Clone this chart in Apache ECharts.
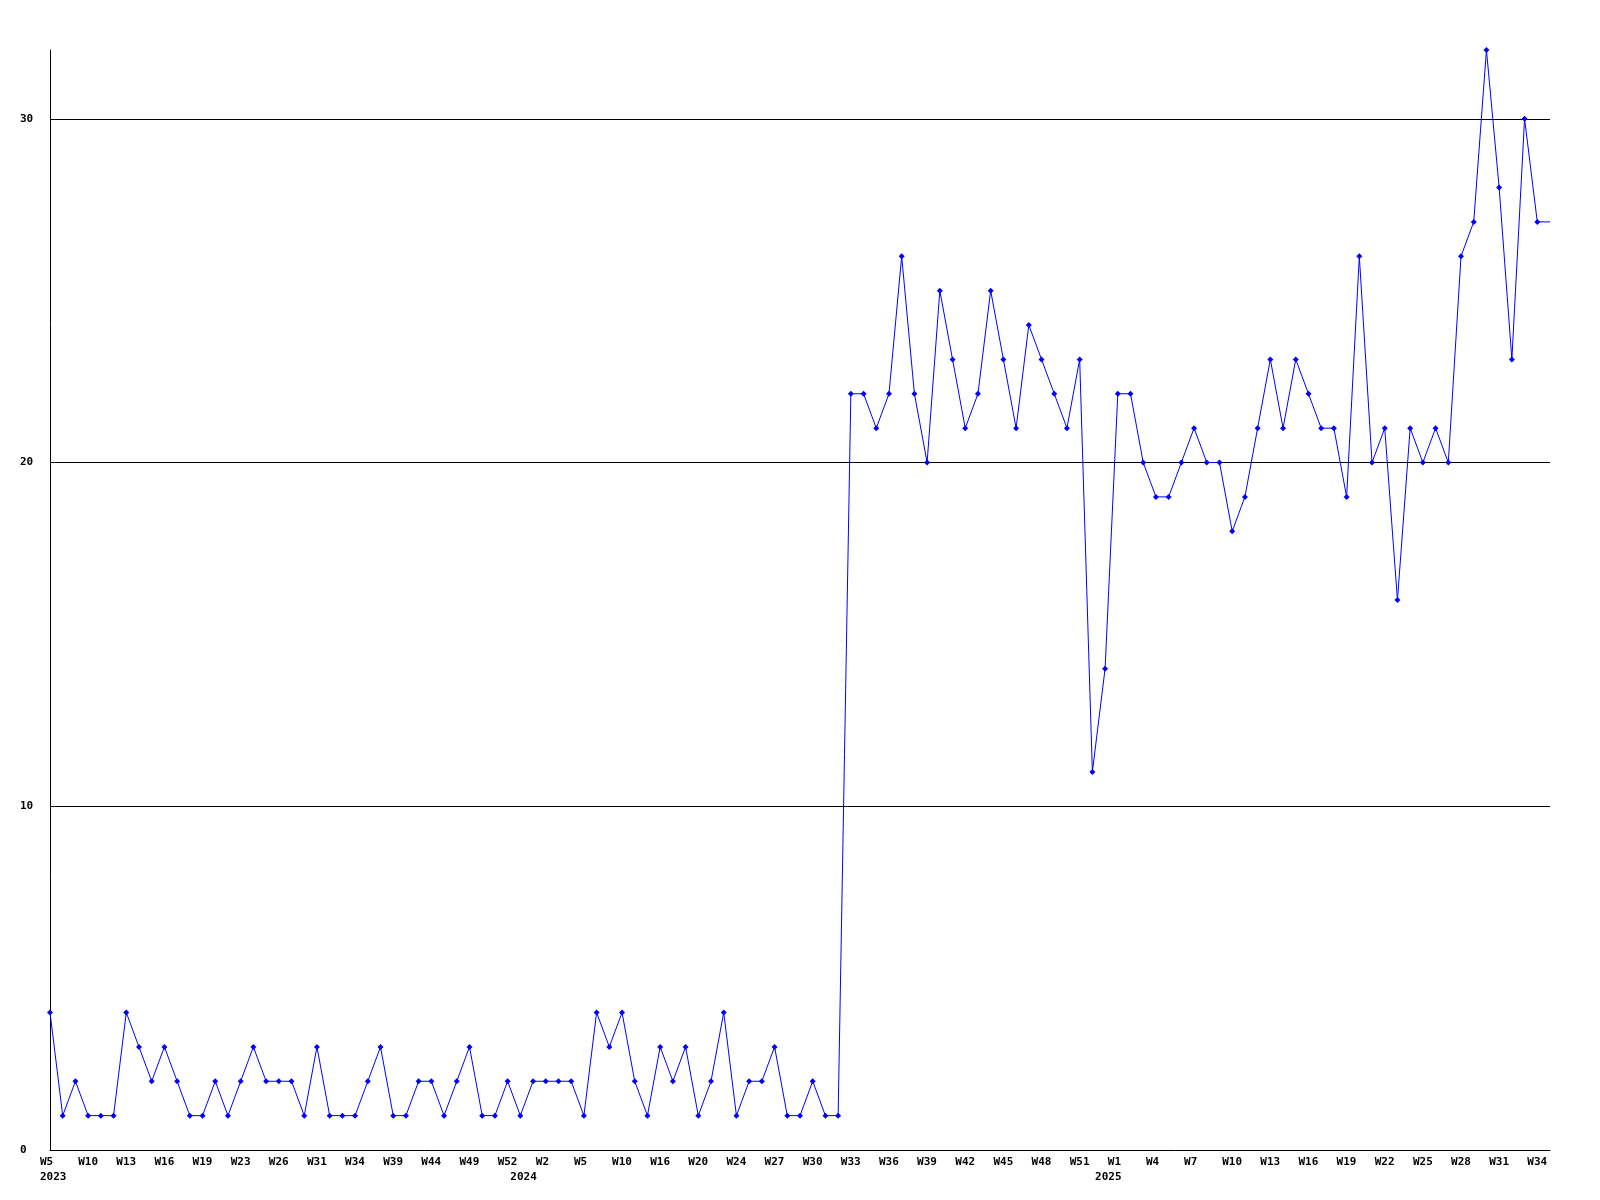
<!DOCTYPE html>
<html>
<head>
<meta charset="utf-8">
<script src="https://cdn.jsdelivr.net/npm/echarts@6/dist/echarts.min.js"></script>
<style>
html,body{margin:0;padding:0;background:#fff;}
#chart{width:1600px;height:1200px;}
</style>
</head>
<body>
<div id="chart"></div>
<script>
// Categories: "year week"
var weeks2023 = ['W5','W7','W8','W10','W11','W12','W13','W14','W15','W16','W17','W18','W19','W20','W22','W23','W24','W25','W26','W28','W30','W31','W32','W33','W34','W36','W37','W39','W41','W42','W44','W46','W47','W49','W50','W51','W52'];
var weeks2024 = ['W0','W1','W2','W3','W4','W5','W7','W9','W10','W12','W14','W16','W17','W18','W20','W21','W22','W24','W25','W26','W27','W28','W29','W30','W31','W32','W33','W34','W35','W36','W37','W38','W39','W40','W41','W42','W43','W44','W45','W46','W47','W48','W49','W50','W51','W52'];
var weeks2025 = ['W0','W1','W2','W3','W4','W5','W6','W7','W8','W9','W10','W11','W12','W13','W14','W15','W16','W17','W18','W19','W20','W21','W22','W23','W24','W25','W26','W27','W28','W29','W30','W31','W32','W33','W34','W35'];

var values = [
  4,1,2,1,1,1,4,3,2,3,2,1,1,2,1,2,3,2,2,2,1,3,1,1,1,2,3,1,1,2,
  2,1,2,3,1,1,2,1,2,2,2,2,1,4,3,4,2,1,3,2,3,1,2,4,1,2,2,3,1,1,2,1,1,
  22,22,21,22,26,22,20,25,23,21,22,25,23,21,24,23,22,21,23,
  11,14,22,22,20,19,19,20,21,20,20,18,19,21,23,21,23,22,21,21,
  19,26,20,21,16,21,20,21,20,26,27,32,28,23,30,27,27
];

var yTicks = [0, 10, 20, 30];
var yMax = 32;

var categories = [];
weeks2023.forEach(function(w){ categories.push('2023 ' + w); });
weeks2024.forEach(function(w){ categories.push('2024 ' + w); });
weeks2025.forEach(function(w){ categories.push('2025 ' + w); });

var yearStart = {};
categories.forEach(function(c, i){
  var y = c.split(' ')[0];
  if (!(y in yearStart)) yearStart[y] = i;
});
var yearStartIdx = Object.keys(yearStart).map(function(k){ return yearStart[k]; });

var seriesData = values.map(function(v, i){
  return i === values.length - 1 ? {value: v, symbol: 'none'} : v;
});

var FONT = 'DejaVu Sans Mono';
var labelStyle = {fontFamily: FONT, fontWeight: 'bold', fontSize: 11, color: '#000'};

var chart = echarts.init(document.getElementById('chart'), null, {renderer: 'canvas'});
chart.setOption({
  animation: false,
  backgroundColor: '#fff',
  grid: [
    {left: 50, right: 50, top: 50, bottom: 50},
    {left: 40, right: 60, top: 50, bottom: 50}
  ],
  xAxis: [
    {
      type: 'category', gridIndex: 0, data: categories, boundaryGap: false,
      axisLine: {show: true, lineStyle: {color: '#000', width: 1}},
      axisTick: {show: false}, axisLabel: {show: false}, splitLine: {show: false}
    },
    {
      type: 'category', gridIndex: 1, data: categories, boundaryGap: false,
      axisLine: {show: false}, axisTick: {show: false}, splitLine: {show: false},
      axisLabel: Object.assign({
        show: true, align: 'left', margin: 7,
        interval: function(i){ return i % 3 === 0; },
        formatter: function(v){ return v.split(' ')[1]; }
      }, labelStyle)
    },
    {
      type: 'category', gridIndex: 1, data: categories, boundaryGap: false, position: 'bottom', offset: 15,
      axisLine: {show: false}, axisTick: {show: false}, splitLine: {show: false},
      axisLabel: Object.assign({
        show: true, align: 'left', margin: 7,
        interval: function(i){ return yearStartIdx.indexOf(i) >= 0; },
        formatter: function(v){ return v.split(' ')[0]; }
      }, labelStyle)
    }
  ],
  yAxis: [
    {
      type: 'value', gridIndex: 0, min: 0, max: yMax, interval: 10,
      axisLine: {show: true, lineStyle: {color: '#000', width: 1}},
      axisTick: {show: false},
      axisLabel: Object.assign({align: 'left', margin: 30, showMaxLabel: false}, labelStyle),
      splitLine: {show: false}
    },
    {
      type: 'value', gridIndex: 1, min: 0, max: 1, show: false
    }
  ],
  series: [{
    type: 'line',
    xAxisIndex: 0, yAxisIndex: 0,
    data: seriesData,
    symbol: 'diamond', symbolSize: 6, showSymbol: true, showAllSymbol: true,
    lineStyle: {color: '#0000ff', width: 1},
    itemStyle: {color: '#0000ff'},
    z: 3,
    markLine: {
      silent: true, symbol: 'none', animation: false, z: 1,
      label: {show: false},
      lineStyle: {color: '#000', width: 1, type: 'solid'},
      emphasis: {disabled: true},
      data: yTicks.filter(function(t){ return t > 0; }).map(function(t){ return {yAxis: t}; })
    }
  }]
});
</script>
</body>
</html>
